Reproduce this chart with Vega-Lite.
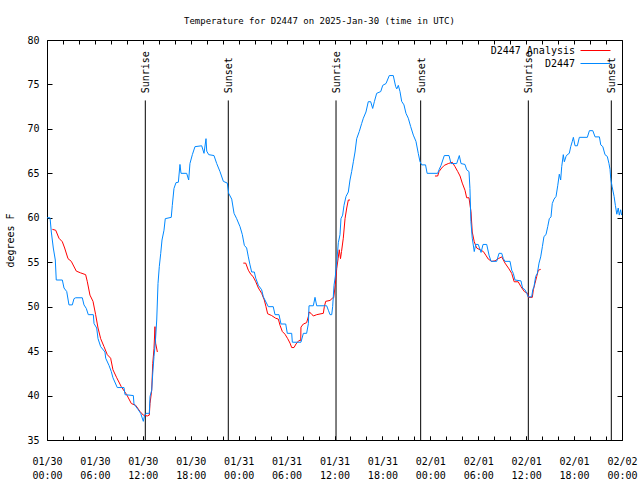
{
 "$schema": "https://vega.github.io/schema/vega-lite/v6.json",
 "width": 575, "height": 400,
 "autosize": "none",
 "padding": {"left": 47, "top": 40, "right": 18, "bottom": 40},
 "background": "white",
 "title": {"text": "Temperature for D2447 on 2025-Jan-30 (time in UTC)", "font": "DejaVu Sans Mono", "fontSize": 9, "fontWeight": "normal", "color": "black", "offset": 9, "dx": -15, "anchor": "middle"},
 "config": {
  "view": {"stroke": "black", "strokeWidth": 1},
  "font": "DejaVu Sans Mono",
  "axis": {"domain": false, "grid": false, "tickColor": "black", "tickWidth": 1, "labelColor": "black", "labelFont": "DejaVu Sans Mono", "labelFontSize": 10, "titleFont": "DejaVu Sans Mono", "titleFontSize": 10, "titleFontWeight": "normal", "titleColor": "black", "labelOverlap": false, "labelFlush": false, "labelBound": false}
 },
 "datasets": {
  "sun": [
   {"h": 12.31, "event": "Sunrise"}, {"h": 22.7, "event": "Sunset"},
   {"h": 36.19, "event": "Sunrise"}, {"h": 46.79, "event": "Sunset"},
   {"h": 60.27, "event": "Sunrise"}, {"h": 70.66, "event": "Sunset"}
  ],
  "temps": [
   {"h":0.67,"t":58.7,"series":"D2447 Analysis","seg":"r1"},
   {"h":1.09,"t":58.6,"series":"D2447 Analysis","seg":"r1"},
   {"h":1.5,"t":57.7,"series":"D2447 Analysis","seg":"r1"},
   {"h":1.92,"t":57.3,"series":"D2447 Analysis","seg":"r1"},
   {"h":2.21,"t":56.6,"series":"D2447 Analysis","seg":"r1"},
   {"h":2.63,"t":55.4,"series":"D2447 Analysis","seg":"r1"},
   {"h":3.04,"t":55.1,"series":"D2447 Analysis","seg":"r1"},
   {"h":3.67,"t":54.0,"series":"D2447 Analysis","seg":"r1"},
   {"h":4.21,"t":53.8,"series":"D2447 Analysis","seg":"r1"},
   {"h":4.84,"t":53.6,"series":"D2447 Analysis","seg":"r1"},
   {"h":5.05,"t":52.8,"series":"D2447 Analysis","seg":"r1"},
   {"h":5.38,"t":51.3,"series":"D2447 Analysis","seg":"r1"},
   {"h":5.76,"t":50.6,"series":"D2447 Analysis","seg":"r1"},
   {"h":6.09,"t":49.1,"series":"D2447 Analysis","seg":"r1"},
   {"h":6.39,"t":47.6,"series":"D2447 Analysis","seg":"r1"},
   {"h":6.72,"t":46.4,"series":"D2447 Analysis","seg":"r1"},
   {"h":7.14,"t":45.5,"series":"D2447 Analysis","seg":"r1"},
   {"h":7.55,"t":44.6,"series":"D2447 Analysis","seg":"r1"},
   {"h":7.97,"t":44.2,"series":"D2447 Analysis","seg":"r1"},
   {"h":8.26,"t":42.9,"series":"D2447 Analysis","seg":"r1"},
   {"h":8.73,"t":42.0,"series":"D2447 Analysis","seg":"r1"},
   {"h":9.3,"t":41.0,"series":"D2447 Analysis","seg":"r1"},
   {"h":9.98,"t":40.1,"series":"D2447 Analysis","seg":"r1"},
   {"h":10.56,"t":39.1,"series":"D2447 Analysis","seg":"r1"},
   {"h":11.11,"t":38.9,"series":"D2447 Analysis","seg":"r1"},
   {"h":11.65,"t":38.2,"series":"D2447 Analysis","seg":"r1"},
   {"h":12.06,"t":37.8,"series":"D2447 Analysis","seg":"r1"},
   {"h":12.56,"t":37.7,"series":"D2447 Analysis","seg":"r1"},
   {"h":12.81,"t":37.8,"series":"D2447 Analysis","seg":"r1"},
   {"h":12.9,"t":39.1,"series":"D2447 Analysis","seg":"r1"},
   {"h":13.11,"t":40.6,"series":"D2447 Analysis","seg":"r1"},
   {"h":13.24,"t":43.6,"series":"D2447 Analysis","seg":"r1"},
   {"h":13.4,"t":45.3,"series":"D2447 Analysis","seg":"r1"},
   {"h":13.52,"t":47.75,"series":"D2447 Analysis","seg":"r1"},
   {"h":13.6,"t":45.9,"series":"D2447 Analysis","seg":"r1"},
   {"h":13.82,"t":44.9,"series":"D2447 Analysis","seg":"r1"},
   {"h":24.58,"t":54.9,"series":"D2447 Analysis","seg":"r2"},
   {"h":24.88,"t":54.9,"series":"D2447 Analysis","seg":"r2"},
   {"h":25.21,"t":54.1,"series":"D2447 Analysis","seg":"r2"},
   {"h":25.55,"t":53.6,"series":"D2447 Analysis","seg":"r2"},
   {"h":25.8,"t":53.4,"series":"D2447 Analysis","seg":"r2"},
   {"h":26.14,"t":52.8,"series":"D2447 Analysis","seg":"r2"},
   {"h":26.47,"t":52.1,"series":"D2447 Analysis","seg":"r2"},
   {"h":26.88,"t":51.5,"series":"D2447 Analysis","seg":"r2"},
   {"h":27.21,"t":50.75,"series":"D2447 Analysis","seg":"r2"},
   {"h":27.42,"t":50.0,"series":"D2447 Analysis","seg":"r2"},
   {"h":27.63,"t":49.2,"series":"D2447 Analysis","seg":"r2"},
   {"h":28.13,"t":49.0,"series":"D2447 Analysis","seg":"r2"},
   {"h":28.63,"t":48.7,"series":"D2447 Analysis","seg":"r2"},
   {"h":28.97,"t":48.6,"series":"D2447 Analysis","seg":"r2"},
   {"h":29.18,"t":47.9,"series":"D2447 Analysis","seg":"r2"},
   {"h":29.47,"t":47.2,"series":"D2447 Analysis","seg":"r2"},
   {"h":29.8,"t":46.9,"series":"D2447 Analysis","seg":"r2"},
   {"h":30.14,"t":46.4,"series":"D2447 Analysis","seg":"r2"},
   {"h":30.43,"t":45.9,"series":"D2447 Analysis","seg":"r2"},
   {"h":30.64,"t":45.4,"series":"D2447 Analysis","seg":"r2"},
   {"h":30.93,"t":45.4,"series":"D2447 Analysis","seg":"r2"},
   {"h":31.18,"t":45.8,"series":"D2447 Analysis","seg":"r2"},
   {"h":31.55,"t":46.2,"series":"D2447 Analysis","seg":"r2"},
   {"h":31.77,"t":46.2,"series":"D2447 Analysis","seg":"r2"},
   {"h":31.8,"t":47.7,"series":"D2447 Analysis","seg":"r2"},
   {"h":32.1,"t":48.05,"series":"D2447 Analysis","seg":"r2"},
   {"h":32.51,"t":48.2,"series":"D2447 Analysis","seg":"r2"},
   {"h":32.73,"t":48.9,"series":"D2447 Analysis","seg":"r2"},
   {"h":32.81,"t":49.4,"series":"D2447 Analysis","seg":"r2"},
   {"h":33.06,"t":49.25,"series":"D2447 Analysis","seg":"r2"},
   {"h":33.35,"t":48.95,"series":"D2447 Analysis","seg":"r2"},
   {"h":33.77,"t":49.1,"series":"D2447 Analysis","seg":"r2"},
   {"h":34.31,"t":49.2,"series":"D2447 Analysis","seg":"r2"},
   {"h":34.6,"t":49.25,"series":"D2447 Analysis","seg":"r2"},
   {"h":34.73,"t":50.0,"series":"D2447 Analysis","seg":"r2"},
   {"h":34.9,"t":50.6,"series":"D2447 Analysis","seg":"r2"},
   {"h":35.44,"t":50.7,"series":"D2447 Analysis","seg":"r2"},
   {"h":35.73,"t":50.95,"series":"D2447 Analysis","seg":"r2"},
   {"h":35.9,"t":51.0,"series":"D2447 Analysis","seg":"r2"},
   {"h":36.1,"t":52.5,"series":"D2447 Analysis","seg":"r2"},
   {"h":36.28,"t":54.3,"series":"D2447 Analysis","seg":"r2"},
   {"h":36.45,"t":55.4,"series":"D2447 Analysis","seg":"r2"},
   {"h":36.6,"t":56.4,"series":"D2447 Analysis","seg":"r2"},
   {"h":36.75,"t":55.4,"series":"D2447 Analysis","seg":"r2"},
   {"h":36.88,"t":56.2,"series":"D2447 Analysis","seg":"r2"},
   {"h":37.1,"t":57.7,"series":"D2447 Analysis","seg":"r2"},
   {"h":37.32,"t":59.9,"series":"D2447 Analysis","seg":"r2"},
   {"h":37.53,"t":61.1,"series":"D2447 Analysis","seg":"r2"},
   {"h":37.73,"t":62.0,"series":"D2447 Analysis","seg":"r2"},
   {"h":37.94,"t":62.0,"series":"D2447 Analysis","seg":"r2"},
   {"h":48.58,"t":64.7,"series":"D2447 Analysis","seg":"r3"},
   {"h":48.92,"t":64.7,"series":"D2447 Analysis","seg":"r3"},
   {"h":49.09,"t":65.2,"series":"D2447 Analysis","seg":"r3"},
   {"h":49.42,"t":65.6,"series":"D2447 Analysis","seg":"r3"},
   {"h":49.75,"t":65.9,"series":"D2447 Analysis","seg":"r3"},
   {"h":50.25,"t":66.1,"series":"D2447 Analysis","seg":"r3"},
   {"h":50.75,"t":66.25,"series":"D2447 Analysis","seg":"r3"},
   {"h":51.09,"t":65.75,"series":"D2447 Analysis","seg":"r3"},
   {"h":51.43,"t":65.2,"series":"D2447 Analysis","seg":"r3"},
   {"h":51.72,"t":64.7,"series":"D2447 Analysis","seg":"r3"},
   {"h":52.0,"t":63.9,"series":"D2447 Analysis","seg":"r3"},
   {"h":52.34,"t":63.1,"series":"D2447 Analysis","seg":"r3"},
   {"h":52.55,"t":62.25,"series":"D2447 Analysis","seg":"r3"},
   {"h":52.84,"t":62.25,"series":"D2447 Analysis","seg":"r3"},
   {"h":53.09,"t":60.7,"series":"D2447 Analysis","seg":"r3"},
   {"h":53.25,"t":58.4,"series":"D2447 Analysis","seg":"r3"},
   {"h":53.5,"t":57.3,"series":"D2447 Analysis","seg":"r3"},
   {"h":53.8,"t":56.6,"series":"D2447 Analysis","seg":"r3"},
   {"h":54.22,"t":56.4,"series":"D2447 Analysis","seg":"r3"},
   {"h":54.64,"t":56.2,"series":"D2447 Analysis","seg":"r3"},
   {"h":54.94,"t":55.8,"series":"D2447 Analysis","seg":"r3"},
   {"h":55.26,"t":55.35,"series":"D2447 Analysis","seg":"r3"},
   {"h":55.68,"t":55.1,"series":"D2447 Analysis","seg":"r3"},
   {"h":56.1,"t":55.15,"series":"D2447 Analysis","seg":"r3"},
   {"h":56.51,"t":55.4,"series":"D2447 Analysis","seg":"r3"},
   {"h":56.94,"t":55.6,"series":"D2447 Analysis","seg":"r3"},
   {"h":57.35,"t":54.9,"series":"D2447 Analysis","seg":"r3"},
   {"h":57.85,"t":54.25,"series":"D2447 Analysis","seg":"r3"},
   {"h":58.19,"t":53.75,"series":"D2447 Analysis","seg":"r3"},
   {"h":58.5,"t":52.8,"series":"D2447 Analysis","seg":"r3"},
   {"h":59.0,"t":52.8,"series":"D2447 Analysis","seg":"r3"},
   {"h":59.35,"t":52.25,"series":"D2447 Analysis","seg":"r3"},
   {"h":59.77,"t":51.7,"series":"D2447 Analysis","seg":"r3"},
   {"h":60.19,"t":51.5,"series":"D2447 Analysis","seg":"r3"},
   {"h":60.27,"t":51.05,"series":"D2447 Analysis","seg":"r3"},
   {"h":60.77,"t":51.05,"series":"D2447 Analysis","seg":"r3"},
   {"h":60.9,"t":51.9,"series":"D2447 Analysis","seg":"r3"},
   {"h":61.1,"t":52.6,"series":"D2447 Analysis","seg":"r3"},
   {"h":61.32,"t":53.4,"series":"D2447 Analysis","seg":"r3"},
   {"h":61.52,"t":54.1,"series":"D2447 Analysis","seg":"r3"},
   {"h":61.82,"t":54.2,"series":"D2447 Analysis","seg":"r3"},
   {"h":0.0,"t":60.0,"series":"D2447","seg":"b"},
   {"h":0.38,"t":60.0,"series":"D2447","seg":"b"},
   {"h":0.54,"t":58.4,"series":"D2447","seg":"b"},
   {"h":0.79,"t":56.6,"series":"D2447","seg":"b"},
   {"h":1.04,"t":55.25,"series":"D2447","seg":"b"},
   {"h":1.16,"t":53.0,"series":"D2447","seg":"b"},
   {"h":1.92,"t":53.0,"series":"D2447","seg":"b"},
   {"h":2.13,"t":52.1,"series":"D2447","seg":"b"},
   {"h":2.47,"t":51.7,"series":"D2447","seg":"b"},
   {"h":2.75,"t":50.2,"series":"D2447","seg":"b"},
   {"h":3.17,"t":50.2,"series":"D2447","seg":"b"},
   {"h":3.38,"t":50.9,"series":"D2447","seg":"b"},
   {"h":3.59,"t":51.0,"series":"D2447","seg":"b"},
   {"h":4.42,"t":51.0,"series":"D2447","seg":"b"},
   {"h":4.63,"t":50.2,"series":"D2447","seg":"b"},
   {"h":4.92,"t":49.8,"series":"D2447","seg":"b"},
   {"h":5.17,"t":49.1,"series":"D2447","seg":"b"},
   {"h":5.8,"t":49.1,"series":"D2447","seg":"b"},
   {"h":5.89,"t":48.1,"series":"D2447","seg":"b"},
   {"h":6.22,"t":47.6,"series":"D2447","seg":"b"},
   {"h":6.39,"t":46.4,"series":"D2447","seg":"b"},
   {"h":6.72,"t":45.5,"series":"D2447","seg":"b"},
   {"h":7.26,"t":44.9,"series":"D2447","seg":"b"},
   {"h":7.35,"t":44.2,"series":"D2447","seg":"b"},
   {"h":7.76,"t":43.4,"series":"D2447","seg":"b"},
   {"h":8.05,"t":42.7,"series":"D2447","seg":"b"},
   {"h":8.26,"t":42.0,"series":"D2447","seg":"b"},
   {"h":8.8,"t":40.9,"series":"D2447","seg":"b"},
   {"h":9.64,"t":40.9,"series":"D2447","seg":"b"},
   {"h":9.77,"t":40.1,"series":"D2447","seg":"b"},
   {"h":10.81,"t":40.0,"series":"D2447","seg":"b"},
   {"h":10.89,"t":39.05,"series":"D2447","seg":"b"},
   {"h":11.43,"t":38.4,"series":"D2447","seg":"b"},
   {"h":11.73,"t":38.0,"series":"D2447","seg":"b"},
   {"h":12.06,"t":37.1,"series":"D2447","seg":"b"},
   {"h":12.23,"t":37.8,"series":"D2447","seg":"b"},
   {"h":12.4,"t":38.0,"series":"D2447","seg":"b"},
   {"h":12.81,"t":38.0,"series":"D2447","seg":"b"},
   {"h":12.9,"t":39.9,"series":"D2447","seg":"b"},
   {"h":13.11,"t":40.6,"series":"D2447","seg":"b"},
   {"h":13.24,"t":42.5,"series":"D2447","seg":"b"},
   {"h":13.4,"t":44.4,"series":"D2447","seg":"b"},
   {"h":13.56,"t":45.9,"series":"D2447","seg":"b"},
   {"h":13.74,"t":48.5,"series":"D2447","seg":"b"},
   {"h":13.9,"t":52.6,"series":"D2447","seg":"b"},
   {"h":14.06,"t":54.5,"series":"D2447","seg":"b"},
   {"h":14.24,"t":56.0,"series":"D2447","seg":"b"},
   {"h":14.4,"t":57.5,"series":"D2447","seg":"b"},
   {"h":14.65,"t":58.6,"series":"D2447","seg":"b"},
   {"h":14.81,"t":59.9,"series":"D2447","seg":"b"},
   {"h":15.56,"t":60.05,"series":"D2447","seg":"b"},
   {"h":15.69,"t":61.4,"series":"D2447","seg":"b"},
   {"h":15.9,"t":63.3,"series":"D2447","seg":"b"},
   {"h":16.15,"t":63.95,"series":"D2447","seg":"b"},
   {"h":16.45,"t":64.0,"series":"D2447","seg":"b"},
   {"h":16.65,"t":66.0,"series":"D2447","seg":"b"},
   {"h":16.78,"t":65.0,"series":"D2447","seg":"b"},
   {"h":17.49,"t":65.0,"series":"D2447","seg":"b"},
   {"h":17.74,"t":64.25,"series":"D2447","seg":"b"},
   {"h":17.9,"t":66.1,"series":"D2447","seg":"b"},
   {"h":18.2,"t":67.1,"series":"D2447","seg":"b"},
   {"h":18.53,"t":68.0,"series":"D2447","seg":"b"},
   {"h":19.37,"t":68.1,"series":"D2447","seg":"b"},
   {"h":19.66,"t":67.25,"series":"D2447","seg":"b"},
   {"h":19.91,"t":68.9,"series":"D2447","seg":"b"},
   {"h":20.0,"t":67.5,"series":"D2447","seg":"b"},
   {"h":20.25,"t":67.1,"series":"D2447","seg":"b"},
   {"h":20.91,"t":67.0,"series":"D2447","seg":"b"},
   {"h":21.25,"t":66.1,"series":"D2447","seg":"b"},
   {"h":21.66,"t":65.2,"series":"D2447","seg":"b"},
   {"h":22.08,"t":64.1,"series":"D2447","seg":"b"},
   {"h":22.58,"t":63.9,"series":"D2447","seg":"b"},
   {"h":22.75,"t":62.75,"series":"D2447","seg":"b"},
   {"h":23.13,"t":62.1,"series":"D2447","seg":"b"},
   {"h":23.42,"t":60.5,"series":"D2447","seg":"b"},
   {"h":23.75,"t":59.9,"series":"D2447","seg":"b"},
   {"h":24.17,"t":59.0,"series":"D2447","seg":"b"},
   {"h":24.46,"t":58.1,"series":"D2447","seg":"b"},
   {"h":24.71,"t":56.9,"series":"D2447","seg":"b"},
   {"h":25.0,"t":56.6,"series":"D2447","seg":"b"},
   {"h":25.21,"t":55.6,"series":"D2447","seg":"b"},
   {"h":25.42,"t":54.7,"series":"D2447","seg":"b"},
   {"h":25.63,"t":53.9,"series":"D2447","seg":"b"},
   {"h":25.96,"t":53.9,"series":"D2447","seg":"b"},
   {"h":26.14,"t":53.2,"series":"D2447","seg":"b"},
   {"h":26.47,"t":52.4,"series":"D2447","seg":"b"},
   {"h":26.88,"t":51.9,"series":"D2447","seg":"b"},
   {"h":27.09,"t":51.1,"series":"D2447","seg":"b"},
   {"h":27.71,"t":50.0,"series":"D2447","seg":"b"},
   {"h":28.33,"t":50.0,"series":"D2447","seg":"b"},
   {"h":28.55,"t":49.1,"series":"D2447","seg":"b"},
   {"h":29.05,"t":49.1,"series":"D2447","seg":"b"},
   {"h":29.3,"t":48.05,"series":"D2447","seg":"b"},
   {"h":29.89,"t":48.05,"series":"D2447","seg":"b"},
   {"h":30.09,"t":47.0,"series":"D2447","seg":"b"},
   {"h":30.64,"t":47.0,"series":"D2447","seg":"b"},
   {"h":30.72,"t":46.0,"series":"D2447","seg":"b"},
   {"h":31.8,"t":46.0,"series":"D2447","seg":"b"},
   {"h":32.1,"t":47.0,"series":"D2447","seg":"b"},
   {"h":32.51,"t":47.0,"series":"D2447","seg":"b"},
   {"h":32.73,"t":48.1,"series":"D2447","seg":"b"},
   {"h":32.81,"t":50.1,"series":"D2447","seg":"b"},
   {"h":33.35,"t":50.1,"series":"D2447","seg":"b"},
   {"h":33.56,"t":51.05,"series":"D2447","seg":"b"},
   {"h":33.77,"t":50.1,"series":"D2447","seg":"b"},
   {"h":35.02,"t":50.1,"series":"D2447","seg":"b"},
   {"h":35.23,"t":49.6,"series":"D2447","seg":"b"},
   {"h":35.44,"t":49.1,"series":"D2447","seg":"b"},
   {"h":35.65,"t":49.1,"series":"D2447","seg":"b"},
   {"h":35.77,"t":50.0,"series":"D2447","seg":"b"},
   {"h":35.94,"t":52.4,"series":"D2447","seg":"b"},
   {"h":36.1,"t":53.4,"series":"D2447","seg":"b"},
   {"h":36.28,"t":55.0,"series":"D2447","seg":"b"},
   {"h":36.48,"t":57.2,"series":"D2447","seg":"b"},
   {"h":36.69,"t":58.1,"series":"D2447","seg":"b"},
   {"h":36.81,"t":59.9,"series":"D2447","seg":"b"},
   {"h":37.02,"t":60.3,"series":"D2447","seg":"b"},
   {"h":37.19,"t":61.4,"series":"D2447","seg":"b"},
   {"h":37.44,"t":62.4,"series":"D2447","seg":"b"},
   {"h":37.73,"t":62.9,"series":"D2447","seg":"b"},
   {"h":37.94,"t":64.25,"series":"D2447","seg":"b"},
   {"h":38.15,"t":65.2,"series":"D2447","seg":"b"},
   {"h":38.36,"t":66.3,"series":"D2447","seg":"b"},
   {"h":38.57,"t":67.4,"series":"D2447","seg":"b"},
   {"h":38.78,"t":68.9,"series":"D2447","seg":"b"},
   {"h":39.1,"t":69.7,"series":"D2447","seg":"b"},
   {"h":39.4,"t":70.6,"series":"D2447","seg":"b"},
   {"h":39.61,"t":71.2,"series":"D2447","seg":"b"},
   {"h":39.94,"t":71.9,"series":"D2447","seg":"b"},
   {"h":40.23,"t":73.06,"series":"D2447","seg":"b"},
   {"h":40.53,"t":73.06,"series":"D2447","seg":"b"},
   {"h":40.78,"t":72.3,"series":"D2447","seg":"b"},
   {"h":40.99,"t":73.06,"series":"D2447","seg":"b"},
   {"h":41.28,"t":74.0,"series":"D2447","seg":"b"},
   {"h":41.79,"t":74.2,"series":"D2447","seg":"b"},
   {"h":42.04,"t":74.9,"series":"D2447","seg":"b"},
   {"h":42.45,"t":75.1,"series":"D2447","seg":"b"},
   {"h":42.86,"t":76.0,"series":"D2447","seg":"b"},
   {"h":43.36,"t":76.0,"series":"D2447","seg":"b"},
   {"h":43.66,"t":74.75,"series":"D2447","seg":"b"},
   {"h":43.8,"t":74.5,"series":"D2447","seg":"b"},
   {"h":43.99,"t":74.9,"series":"D2447","seg":"b"},
   {"h":44.2,"t":74.2,"series":"D2447","seg":"b"},
   {"h":44.41,"t":73.1,"series":"D2447","seg":"b"},
   {"h":44.7,"t":72.7,"series":"D2447","seg":"b"},
   {"h":44.95,"t":71.75,"series":"D2447","seg":"b"},
   {"h":45.24,"t":71.2,"series":"D2447","seg":"b"},
   {"h":45.54,"t":70.25,"series":"D2447","seg":"b"},
   {"h":45.87,"t":69.3,"series":"D2447","seg":"b"},
   {"h":46.2,"t":68.6,"series":"D2447","seg":"b"},
   {"h":46.49,"t":67.25,"series":"D2447","seg":"b"},
   {"h":46.71,"t":66.3,"series":"D2447","seg":"b"},
   {"h":46.92,"t":65.95,"series":"D2447","seg":"b"},
   {"h":47.4,"t":65.95,"series":"D2447","seg":"b"},
   {"h":47.6,"t":65.0,"series":"D2447","seg":"b"},
   {"h":48.92,"t":65.0,"series":"D2447","seg":"b"},
   {"h":49.09,"t":65.4,"series":"D2447","seg":"b"},
   {"h":49.34,"t":65.9,"series":"D2447","seg":"b"},
   {"h":49.75,"t":67.0,"series":"D2447","seg":"b"},
   {"h":50.34,"t":67.0,"series":"D2447","seg":"b"},
   {"h":50.59,"t":66.1,"series":"D2447","seg":"b"},
   {"h":51.3,"t":66.1,"series":"D2447","seg":"b"},
   {"h":51.63,"t":67.0,"series":"D2447","seg":"b"},
   {"h":51.84,"t":66.1,"series":"D2447","seg":"b"},
   {"h":52.34,"t":66.0,"series":"D2447","seg":"b"},
   {"h":52.55,"t":65.4,"series":"D2447","seg":"b"},
   {"h":52.84,"t":65.2,"series":"D2447","seg":"b"},
   {"h":52.96,"t":63.3,"series":"D2447","seg":"b"},
   {"h":53.08,"t":59.6,"series":"D2447","seg":"b"},
   {"h":53.25,"t":57.7,"series":"D2447","seg":"b"},
   {"h":53.5,"t":56.2,"series":"D2447","seg":"b"},
   {"h":53.68,"t":57.0,"series":"D2447","seg":"b"},
   {"h":54.0,"t":57.0,"series":"D2447","seg":"b"},
   {"h":54.35,"t":56.1,"series":"D2447","seg":"b"},
   {"h":54.6,"t":57.0,"series":"D2447","seg":"b"},
   {"h":55.06,"t":57.0,"series":"D2447","seg":"b"},
   {"h":55.35,"t":55.8,"series":"D2447","seg":"b"},
   {"h":55.6,"t":55.1,"series":"D2447","seg":"b"},
   {"h":56.31,"t":55.1,"series":"D2447","seg":"b"},
   {"h":56.6,"t":56.0,"series":"D2447","seg":"b"},
   {"h":56.94,"t":56.0,"series":"D2447","seg":"b"},
   {"h":57.14,"t":55.4,"series":"D2447","seg":"b"},
   {"h":57.35,"t":55.1,"series":"D2447","seg":"b"},
   {"h":57.98,"t":55.1,"series":"D2447","seg":"b"},
   {"h":58.19,"t":54.1,"series":"D2447","seg":"b"},
   {"h":58.39,"t":53.75,"series":"D2447","seg":"b"},
   {"h":58.6,"t":53.0,"series":"D2447","seg":"b"},
   {"h":59.35,"t":52.9,"series":"D2447","seg":"b"},
   {"h":59.55,"t":52.1,"series":"D2447","seg":"b"},
   {"h":59.85,"t":51.9,"series":"D2447","seg":"b"},
   {"h":60.07,"t":51.5,"series":"D2447","seg":"b"},
   {"h":60.27,"t":51.1,"series":"D2447","seg":"b"},
   {"h":60.69,"t":51.1,"series":"D2447","seg":"b"},
   {"h":60.83,"t":51.9,"series":"D2447","seg":"b"},
   {"h":60.98,"t":52.25,"series":"D2447","seg":"b"},
   {"h":61.19,"t":53.4,"series":"D2447","seg":"b"},
   {"h":61.4,"t":53.75,"series":"D2447","seg":"b"},
   {"h":61.61,"t":54.9,"series":"D2447","seg":"b"},
   {"h":61.82,"t":55.6,"series":"D2447","seg":"b"},
   {"h":62.03,"t":56.75,"series":"D2447","seg":"b"},
   {"h":62.23,"t":57.9,"series":"D2447","seg":"b"},
   {"h":62.48,"t":58.1,"series":"D2447","seg":"b"},
   {"h":62.7,"t":59.0,"series":"D2447","seg":"b"},
   {"h":62.9,"t":59.9,"series":"D2447","seg":"b"},
   {"h":63.11,"t":60.1,"series":"D2447","seg":"b"},
   {"h":63.27,"t":61.6,"series":"D2447","seg":"b"},
   {"h":63.49,"t":62.1,"series":"D2447","seg":"b"},
   {"h":63.74,"t":62.4,"series":"D2447","seg":"b"},
   {"h":63.95,"t":63.6,"series":"D2447","seg":"b"},
   {"h":64.15,"t":64.9,"series":"D2447","seg":"b"},
   {"h":64.32,"t":64.25,"series":"D2447","seg":"b"},
   {"h":64.45,"t":65.75,"series":"D2447","seg":"b"},
   {"h":64.65,"t":67.1,"series":"D2447","seg":"b"},
   {"h":64.78,"t":66.3,"series":"D2447","seg":"b"},
   {"h":64.99,"t":66.9,"series":"D2447","seg":"b"},
   {"h":65.15,"t":67.1,"series":"D2447","seg":"b"},
   {"h":65.4,"t":67.25,"series":"D2447","seg":"b"},
   {"h":65.58,"t":68.0,"series":"D2447","seg":"b"},
   {"h":65.78,"t":68.6,"series":"D2447","seg":"b"},
   {"h":65.91,"t":69.05,"series":"D2447","seg":"b"},
   {"h":66.12,"t":68.1,"series":"D2447","seg":"b"},
   {"h":66.41,"t":68.1,"series":"D2447","seg":"b"},
   {"h":66.66,"t":69.05,"series":"D2447","seg":"b"},
   {"h":67.66,"t":69.05,"series":"D2447","seg":"b"},
   {"h":67.92,"t":69.8,"series":"D2447","seg":"b"},
   {"h":68.34,"t":69.8,"series":"D2447","seg":"b"},
   {"h":68.63,"t":69.1,"series":"D2447","seg":"b"},
   {"h":69.17,"t":69.1,"series":"D2447","seg":"b"},
   {"h":69.34,"t":68.2,"series":"D2447","seg":"b"},
   {"h":69.6,"t":68.0,"series":"D2447","seg":"b"},
   {"h":69.87,"t":67.1,"series":"D2447","seg":"b"},
   {"h":70.16,"t":66.9,"series":"D2447","seg":"b"},
   {"h":70.37,"t":66.1,"series":"D2447","seg":"b"},
   {"h":70.5,"t":65.45,"series":"D2447","seg":"b"},
   {"h":70.59,"t":64.4,"series":"D2447","seg":"b"},
   {"h":70.76,"t":63.5,"series":"D2447","seg":"b"},
   {"h":71.01,"t":62.4,"series":"D2447","seg":"b"},
   {"h":71.17,"t":61.4,"series":"D2447","seg":"b"},
   {"h":71.35,"t":60.4,"series":"D2447","seg":"b"},
   {"h":71.53,"t":61.1,"series":"D2447","seg":"b"},
   {"h":71.66,"t":60.3,"series":"D2447","seg":"b"},
   {"h":71.83,"t":60.9,"series":"D2447","seg":"b"},
   {"h":71.95,"t":60.3,"series":"D2447","seg":"b"}
  ]
 },
 "layer": [
  {
   "data": {"name": "sun"},
   "mark": {"type": "rule", "color": "black", "strokeWidth": 1},
   "encoding": {
    "x": {"field": "h", "type": "quantitative", "scale": {"domain": [0, 72], "nice": false, "zero": false},
          "axis": {"orient": "top", "values": [0,2,4,6,8,10,12,14,16,18,20,22,24,26,28,30,32,34,36,38,40,42,44,46,48,50,52,54,56,58,60,62,64,66,68,70,72], "labels": false, "tickSize": -4, "title": null}},
    "y": {"datum": 35, "type": "quantitative", "scale": {"domain": [35, 80], "nice": false, "zero": false},
          "axis": {"orient": "right", "values": [35,40,45,50,55,60,65,70,75,80], "labels": false, "tickSize": -5, "title": null}},
    "y2": {"datum": 73.2}
   }
  },
  {
   "data": {"name": "sun"},
   "mark": {"type": "text", "angle": 270, "align": "left", "baseline": "middle", "font": "DejaVu Sans Mono", "fontSize": 10, "color": "black", "dy": 1},
   "encoding": {
    "x": {"field": "h", "type": "quantitative",
          "axis": {"orient": "bottom", "values": [0,2,4,6,8,10,12,14,16,18,20,22,24,26,28,30,32,34,36,38,40,42,44,46,48,50,52,54,56,58,60,62,64,66,68,70,72], "labels": false, "tickSize": -4, "title": null}},
    "y": {"datum": 74.0, "type": "quantitative", "axis": null},
    "text": {"field": "event"}
   }
  },
  {
   "data": {"name": "temps"},
   "mark": {"type": "line", "strokeWidth": 1, "interpolate": "linear"},
   "encoding": {
    "x": {"field": "h", "type": "quantitative",
          "axis": {"orient": "bottom", "values": [0,6,12,18,24,30,36,42,48,54,60,66,72], "tickSize": -4, "labelPadding": 20, "labelLineHeight": 14, "labelBaseline": "top", "labelAlign": "center", "title": null,
                   "labelExpr": "[['01/30','01/31','02/01','02/02'][floor(datum.value/24)], (datum.value%24 < 10 ? '0' : '') + (datum.value%24) + ':00']"}},
    "y": {"field": "t", "type": "quantitative",
          "axis": {"orient": "left", "values": [35,40,45,50,55,60,65,70,75,80], "tickSize": -5, "labelPadding": 13, "title": "degrees F", "titlePadding": 11}},
    "color": {"field": "series", "type": "nominal",
              "scale": {"domain": ["D2447 Analysis", "D2447"], "range": ["#ff0000", "#0088ff"]},
              "legend": {"orient": "none", "legendX": 541, "legendY": 3, "title": null, "symbolType": "M-2.14,0H2.14", "symbolSize": 196, "symbolStrokeWidth": 1, "labelAlign": "right", "labelOffset": -28, "labelFont": "DejaVu Sans Mono", "labelFontSize": 10, "labelColor": "black", "rowPadding": 0}},
    "detail": {"field": "seg"}
   }
  }
 ],
 "resolve": {"axis": {"x": "independent", "y": "independent"}}
}
